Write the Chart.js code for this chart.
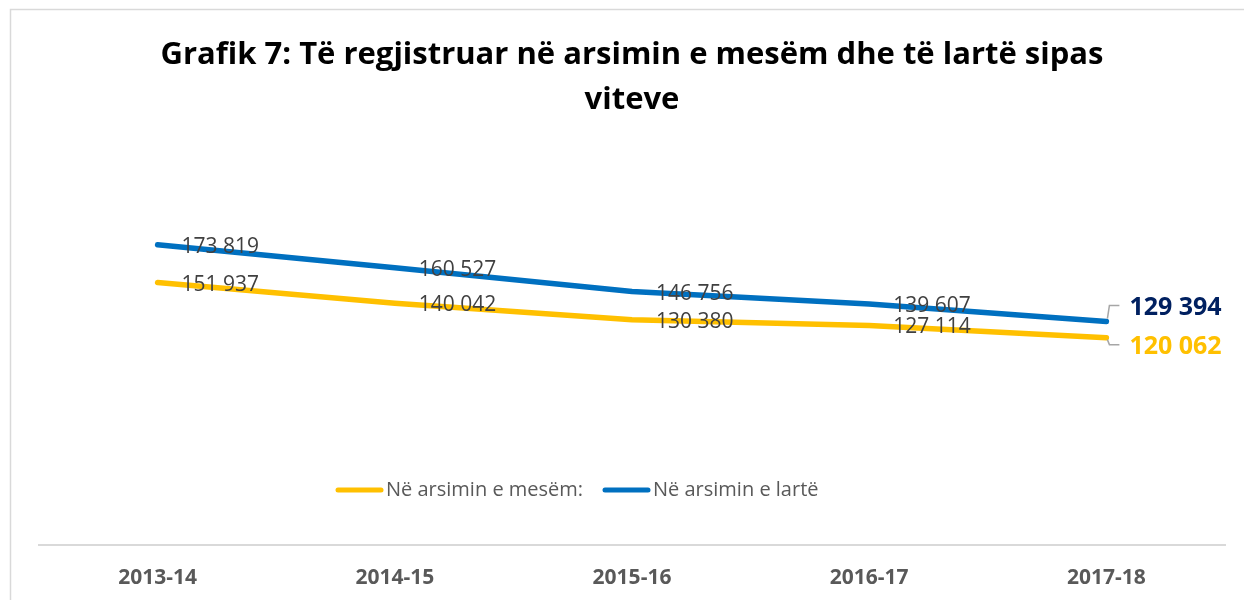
<!DOCTYPE html>
<html>
<head>
<meta charset="utf-8">
<script src="https://cdn.jsdelivr.net/npm/chart.js@4.4.1/dist/chart.umd.min.js"></script>
<style>
  html, body { margin: 0; padding: 0; background: #ffffff; }
  #wrap { width: 1244px; height: 600px; }
</style>
</head>
<body>
<div id="wrap"><canvas id="c" width="1244" height="600"></canvas></div>
<script>
const categories = ['2013-14', '2014-15', '2015-16', '2016-17', '2017-18'];
const seriesMesem = [151937, 140042, 130380, 127114, 120062];
const seriesLarte = [173819, 160527, 146756, 139607, 129394];
const seriesNames = ['Në arsimin e mesëm:', 'Në arsimin e lartë'];
const titleLines = ['Grafik 7: Të regjistruar në arsimin e mesëm dhe të lartë sipas', 'viteve'];

const COLOR_YELLOW = '#FFC000';
const COLOR_BLUE = '#0070C0';
const LAST_LABEL_COLORS = ['#FFC000', '#002060'];
const FONT = '"Open Sans", "Liberation Sans", sans-serif';

function fmt(v) {
  return String(v).replace(/\B(?=(\d{3})+(?!\d))/g, ' ');
}

const frame = {
  id: 'frame',
  beforeDraw(chart) {
    const ctx = chart.ctx;
    ctx.save();
    ctx.fillStyle = '#ffffff';
    ctx.fillRect(0, 0, chart.width, chart.height);
    ctx.strokeStyle = '#d9d9d9';
    ctx.lineWidth = 1.5;
    ctx.strokeRect(10.5, 9.5, chart.width + 20, chart.height + 20);
    ctx.restore();
  }
};

const valueLabels = {
  id: 'valueLabels',
  afterDatasetsDraw(chart) {
    const ctx = chart.ctx;
    const dsList = chart.data.datasets;
    dsList.forEach((ds, i) => {
      const meta = chart.getDatasetMeta(i);
      const n = meta.data.length;
      meta.data.forEach((pt, j) => {
        const txt = fmt(ds.data[j]);
        ctx.save();
        ctx.textAlign = 'left';
        ctx.textBaseline = 'middle';
        if (j < n - 1) {
          ctx.font = '21px ' + FONT;
          ctx.fillStyle = '#404040';
          ctx.fillText(txt, pt.x + 24, pt.y + 2);
        } else {
          let above = true;
          dsList.forEach((o, k) => { if (k !== i && o.data[j] > ds.data[j]) above = false; });
          const dy = above ? -16 : 7;
          ctx.strokeStyle = '#a6a6a6';
          ctx.lineWidth = 1.5;
          ctx.beginPath();
          ctx.moveTo(pt.x + 1, pt.y + (above ? -3 : 2));
          ctx.lineTo(pt.x + 3, pt.y + dy);
          ctx.lineTo(pt.x + 13, pt.y + dy);
          ctx.stroke();
          ctx.font = 'bold 25px ' + FONT;
          ctx.fillStyle = LAST_LABEL_COLORS[i];
          ctx.fillText(txt, pt.x + 23, pt.y + dy + 2);
        }
        ctx.restore();
      });
    });
  }
};

const innerLegend = {
  id: 'innerLegend',
  afterDraw(chart) {
    const ctx = chart.ctx;
    const starts = [336, 603];
    const y = 490;
    chart.data.datasets.forEach((ds, i) => {
      const x = starts[i];
      ctx.save();
      ctx.strokeStyle = ds.borderColor;
      ctx.lineWidth = 5;
      ctx.lineCap = 'round';
      ctx.beginPath();
      ctx.moveTo(x + 2, y);
      ctx.lineTo(x + 45, y);
      ctx.stroke();
      ctx.font = '20px ' + FONT;
      ctx.fillStyle = '#595959';
      ctx.textAlign = 'left';
      ctx.textBaseline = 'middle';
      ctx.fillText(ds.label, x + 50, y);
      ctx.restore();
    });
  }
};

new Chart(document.getElementById('c'), {
  type: 'line',
  data: {
    labels: categories,
    datasets: [
      {
        label: seriesNames[0],
        data: seriesMesem,
        borderColor: COLOR_YELLOW,
        backgroundColor: COLOR_YELLOW,
        borderWidth: 5.5,
        pointRadius: 0,
        tension: 0,
        borderCapStyle: 'round',
        borderJoinStyle: 'round'
      },
      {
        label: seriesNames[1],
        data: seriesLarte,
        borderColor: COLOR_BLUE,
        backgroundColor: COLOR_BLUE,
        borderWidth: 5.5,
        pointRadius: 0,
        tension: 0,
        borderCapStyle: 'round',
        borderJoinStyle: 'round'
      }
    ]
  },
  options: {
    responsive: false,
    animation: false,
    events: [],
    layout: { padding: { left: 39, right: 19, top: 0, bottom: 11 }, autoPadding: false },
    plugins: {
      legend: { display: false },
      tooltip: { enabled: false },
      title: {
        display: true,
        text: titleLines,
        color: '#000000',
        font: { family: FONT, size: 31, weight: 'bold', lineHeight: 1.45 },
        padding: { top: 33, bottom: 76.7 }
      }
    },
    scales: {
      x: {
        offset: true,
        grid: { display: false, drawTicks: false },
        border: { display: true, color: '#d9d9d9', width: 2 },
        ticks: {
          color: '#595959',
          padding: 20,
          font: { family: FONT, size: 21, weight: 'bold', lineHeight: 1.2 }
        },
        afterFit(scale) { scale.height = 44; }
      },
      y: {
        display: false,
        min: 0,
        max: 200000
      }
    }
  },
  plugins: [frame, valueLabels, innerLegend]
});
</script>
</body>
</html>
